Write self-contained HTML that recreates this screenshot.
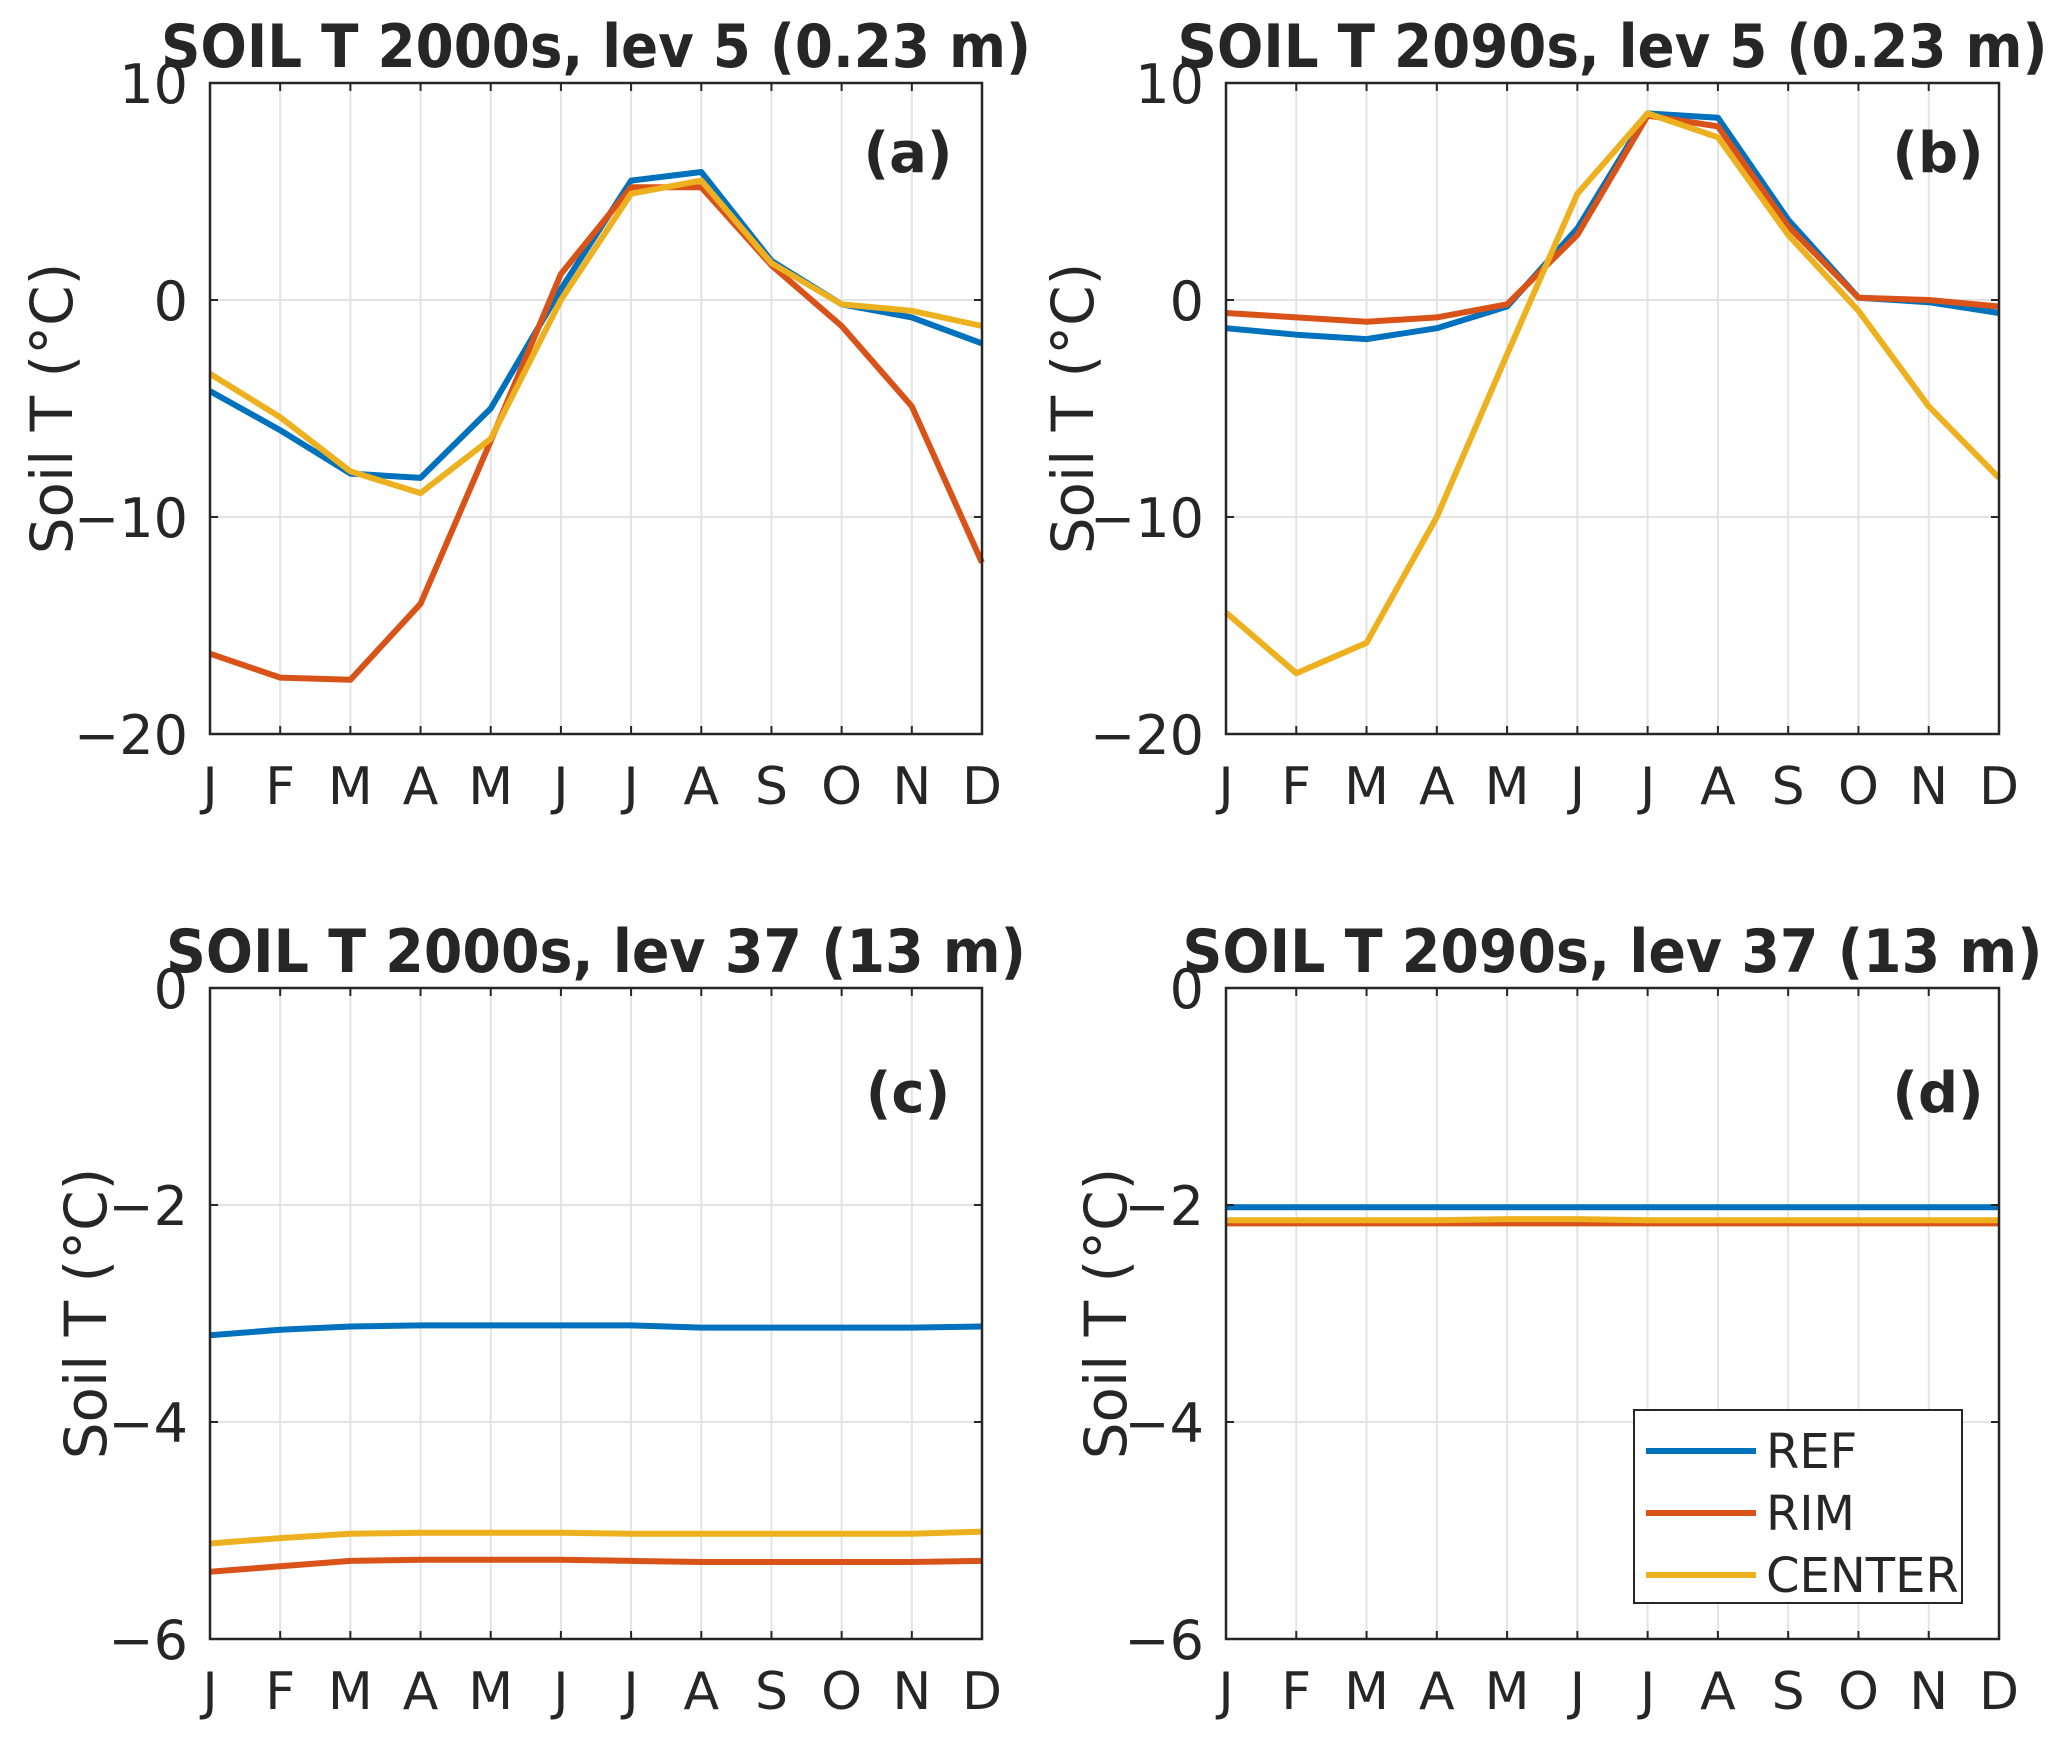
<!DOCTYPE html>
<html><head><meta charset="utf-8">
<style>
html,body{margin:0;padding:0;background:#fff;}
svg{display:block;}
text{font-family:"DejaVu Sans","Liberation Sans",sans-serif;fill:#262626;}
</style></head>
<body>
<svg id="fig" width="2067" height="1737" viewBox="0 0 2067 1737" xmlns="http://www.w3.org/2000/svg"></svg>
<script>
const months = ["J","F","M","A","M","J","J","A","S","O","N","D"];
const seriesNames = ["REF","RIM","CENTER"];
const seriesColors = ["#0072BD","#D95319","#EDB120"];
// Panel (a)
const aRef = [-4.2,-6,-8,-8.2,-5,0.5,5.5,5.9,1.8,-0.2,-0.8,-2];
const aRim = [-16.3,-17.4,-17.5,-14,-6.5,1.2,5.2,5.2,1.6,-1.2,-4.9,-12.1];
const aCenter = [-3.4,-5.4,-7.9,-8.9,-6.4,0,4.9,5.5,1.7,-0.2,-0.5,-1.2];
// Panel (b)
const bRef = [-1.3,-1.6,-1.8,-1.3,-0.3,3.3,8.6,8.4,3.7,0.1,-0.1,-0.6];
const bRim = [-0.6,-0.8,-1.0,-0.8,-0.2,3.0,8.5,8.0,3.4,0.1,0,-0.3];
const bCenter = [-14.4,-17.2,-15.8,-10,-2.5,4.9,8.6,7.5,3.0,-0.5,-4.9,-8.2];
// Panel (c)
const cRef = [-3.2,-3.15,-3.12,-3.11,-3.11,-3.11,-3.11,-3.13,-3.13,-3.13,-3.13,-3.12];
const cRim = [-5.38,-5.33,-5.28,-5.27,-5.27,-5.27,-5.28,-5.29,-5.29,-5.29,-5.29,-5.28];
const cCenter = [-5.12,-5.07,-5.03,-5.02,-5.02,-5.02,-5.03,-5.03,-5.03,-5.03,-5.03,-5.01];
// Panel (d)
const dRef = [-2.02,-2.02,-2.02,-2.02,-2.02,-2.02,-2.02,-2.02,-2.02,-2.02,-2.02,-2.02];
const dRim = [-2.17,-2.17,-2.17,-2.17,-2.17,-2.17,-2.17,-2.17,-2.17,-2.17,-2.17,-2.17];
const dCenter = [-2.14,-2.14,-2.14,-2.14,-2.13,-2.13,-2.14,-2.14,-2.14,-2.14,-2.14,-2.14];
const topTicks = [10,0,-10,-20];
const bottomTicks = [0,-2,-4,-6];

const NS = "http://www.w3.org/2000/svg";
const svg = document.getElementById("fig");
function el(tag, attrs, parent){
  const e = document.createElementNS(NS, tag);
  for (const k in attrs) e.setAttribute(k, attrs[k]);
  (parent||svg).appendChild(e);
  return e;
}

const panels = [
  {key:"a", x0:210, x1:982, y0:83, y1:734, ymin:-20, ymax:10, ticks:topTicks, title:"SOIL T 2000s, lev 5 (0.23 m)", tw:870, label:"(a)", series:[aRef,aRim,aCenter], ylx:52, lab:[908,172]},
  {key:"b", x0:1226, x1:1999, y0:83, y1:734, ymin:-20, ymax:10, ticks:topTicks, title:"SOIL T 2090s, lev 5 (0.23 m)", tw:870, label:"(b)", series:[bRef,bRim,bCenter], ylx:1073, lab:[1938,172]},
  {key:"c", x0:210, x1:982, y0:988, y1:1639, ymin:-6, ymax:0, ticks:bottomTicks, title:"SOIL T 2000s, lev 37 (13 m)", tw:860, label:"(c)", series:[cRef,cRim,cCenter], ylx:86, lab:[908,1112]},
  {key:"d", x0:1226, x1:1999, y0:988, y1:1639, ymin:-6, ymax:0, ticks:bottomTicks, title:"SOIL T 2090s, lev 37 (13 m)", tw:860, label:"(d)", series:[dRef,dRim,dCenter], ylx:1106, lab:[1938,1112]}
];

panels.forEach(p=>{
  const g = el("g",{});
  
  
  const xs = i => p.x0 + (p.x1-p.x0)*i/11;
  const ys = v => p.y1 - (v-p.ymin)/(p.ymax-p.ymin)*(p.y1-p.y0);
  for (let i=1;i<11;i++){
    const l = el("line",{x1:xs(i),x2:xs(i),y1:p.y0,y2:p.y1,stroke:"#e3e3e3","stroke-width":2},g);
    
    
  }
  p.ticks.forEach(t=>{
    if (t!==p.ymin && t!==p.ymax){
      const l = el("line",{x1:p.x0,x2:p.x1,y1:ys(t),y2:ys(t),stroke:"#e3e3e3","stroke-width":2},g);
      
      
    }
  });
  p.series.forEach((s,si)=>{
    const pts = s.map((v,i)=>xs(i).toFixed(1)+","+ys(v).toFixed(1)).join(" ");
    const pl = el("polyline",{points:pts,fill:"none",stroke:seriesColors[si],"stroke-width":6,"stroke-linejoin":"round"},g);
    
    
  });
  const box = el("rect",{x:p.x0,y:p.y0,width:p.x1-p.x0,height:p.y1-p.y0,fill:"none",stroke:"#262626","stroke-width":2.5},g);
  
  
  months.forEach((m,i)=>{
    el("line",{x1:xs(i),x2:xs(i),y1:p.y1,y2:p.y1-8,stroke:"#262626","stroke-width":2},g);
    el("line",{x1:xs(i),x2:xs(i),y1:p.y0,y2:p.y0+8,stroke:"#262626","stroke-width":2},g);
    const t = el("text",{x:xs(i),y:p.y1+70,"text-anchor":"middle","font-size":52},g);
    t.textContent = m;
    
    
  });
  p.ticks.forEach(v=>{
    el("line",{x1:p.x0,x2:p.x0+8,y1:ys(v),y2:ys(v),stroke:"#262626","stroke-width":2},g);
    el("line",{x1:p.x1,x2:p.x1-8,y1:ys(v),y2:ys(v),stroke:"#262626","stroke-width":2},g);
    const t = el("text",{x:p.x0-22,y:ys(v)+20,"text-anchor":"end","font-size":54},g);
    t.textContent = v<0 ? "\u2212"+Math.abs(v) : String(v);
    
    
  });
  const cy = (p.y0+p.y1)/2;
  const yl = el("text",{x:p.ylx,y:cy,"text-anchor":"middle","font-size":58,transform:"rotate(-90 "+p.ylx+" "+cy+")",dy:"20"},g);
  yl.textContent = "Soil T (\u00B0C)";
  
  
  const tt = el("text",{x:(p.x0+p.x1)/2,y:p.y0-16,"text-anchor":"middle","font-size":60,"font-weight":"bold",fill:"#000",textLength:p.tw,lengthAdjust:"spacingAndGlyphs"},g);
  tt.textContent = p.title;
  
  
  const pl = el("text",{x:p.lab[0],y:p.lab[1],"text-anchor":"middle","font-size":56,"font-weight":"bold",fill:"#000"},g);
  pl.textContent = p.label;
  
  
});

const lg = el("g",{});


const lb = el("rect",{x:1634,y:1410,width:328,height:193,fill:"#fff",stroke:"#262626","stroke-width":2},lg);


seriesNames.forEach((n,i)=>{
  const y = 1451 + i*62;
  const ln = el("line",{x1:1646,x2:1756,y1:y,y2:y,stroke:seriesColors[i],"stroke-width":6},lg);
  
  
  const t = el("text",{x:1766,y:y+17,"font-size":48,fill:"#000"},lg);
  t.textContent = n;
  
  
});
</script>
</body></html>
